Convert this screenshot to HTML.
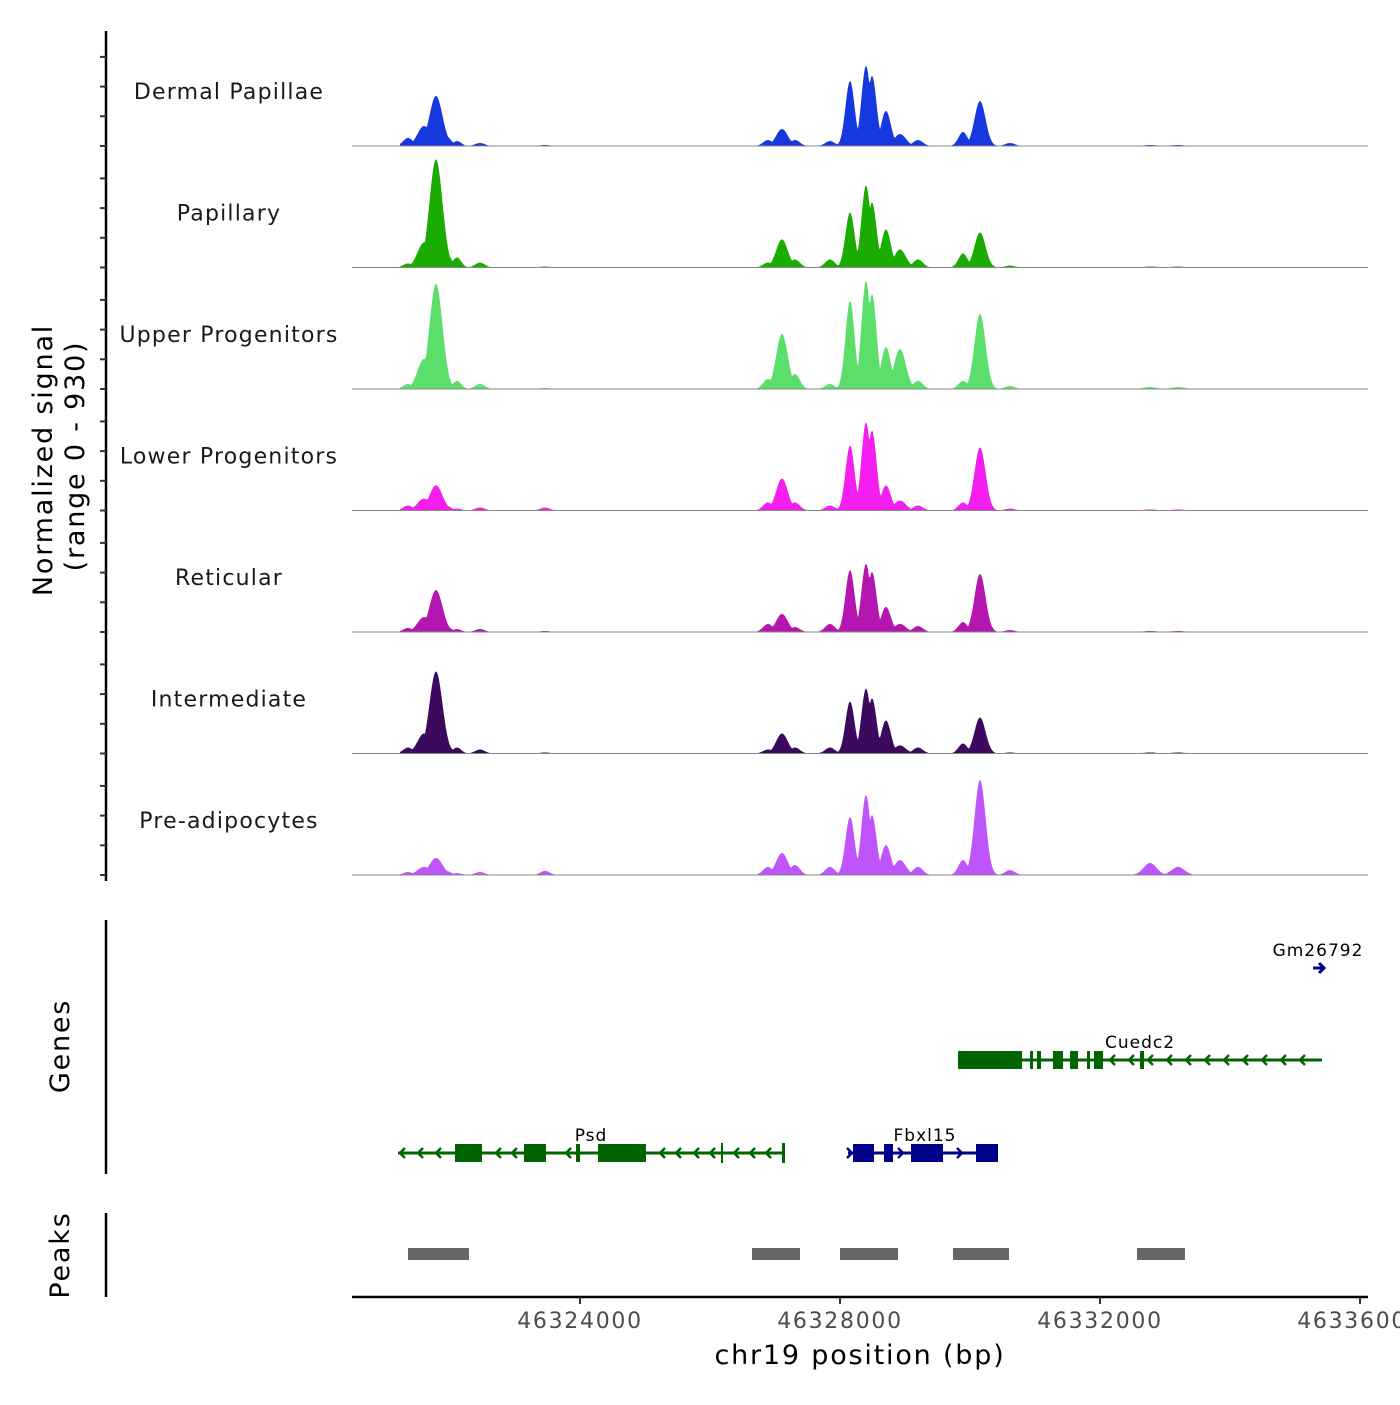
<!DOCTYPE html>
<html><head><meta charset="utf-8"><style>
body{margin:0;background:#fff}
svg text{font-family:"DejaVu Sans","Liberation Sans",sans-serif}
</style></head><body>
<svg id="c" width="1400" height="1400" xmlns="http://www.w3.org/2000/svg"></svg>
<script>
const trackNames=["Dermal Papillae","Papillary","Upper Progenitors","Lower Progenitors","Reticular","Intermediate","Pre-adipocytes"];
const trackColors=["#1538df","#1aac00","#5cdf6a","#f41ef0","#b616b0","#3b0a5f","#be55fb"];
const peakCenters=[46321354,46321600,46321784,46321938,46322107,46322461,46323461,46326892,46327107,46327307,46327846,46328154,46328400,46328492,46328707,46328923,46329200,46329892,46330154,46330615,46332769,46333200];
const peakSigma=[75,100,100,75,65,75,75,75,90,75,75,70,70,70,75,90,75,70,85,75,100,100];
const sigDP=[62,154,385,77,38,23,8,46,131,46,38,500,616,539,270,92,46,108,346,23,8,8];
const sigPap=[31,192,832,115,77,38,8,38,216,62,62,424,631,500,293,139,62,108,270,15,8,8];
const sigUpper=[38,231,809,77,62,38,8,77,424,115,38,678,832,731,323,308,62,62,578,23,15,15];
const sigLower=[38,92,193,38,15,23,23,62,246,62,38,500,678,616,193,77,38,62,485,15,8,8];
const sigRetic=[31,115,323,46,23,23,8,62,139,38,62,477,524,462,193,62,46,77,447,15,8,8];
const sigInter=[46,154,631,77,46,31,8,31,154,46,46,400,500,424,254,62,46,77,277,8,8,8];
const sigPre=[23,62,131,31,15,23,31,62,169,77,62,447,616,462,231,115,62,115,731,38,92,62];
const signals=[sigDP,sigPap,sigUpper,sigLower,sigRetic,sigInter,sigPre];
const xTicks=[46324000,46328000,46332000,46336000];
const peakStarts=[46321354,46326646,46328000,46329738,46332569];
const peakEnds=[46322292,46327384,46328892,46330600,46333307];
const yMax=930;

const svg=document.getElementById('c');const NS="http://www.w3.org/2000/svg";
function mk(t,a,p){const e=document.createElementNS(NS,t);for(const k in a)e.setAttribute(k,a[k]);(p||svg).appendChild(e);return e;}
const x0=46320492,pxPerBp=0.065;
const X=bp=>352+(bp-x0)*pxPerBp;
const trackH=121.5, base0=146;
const Y=(v,i)=>base0+i*trackH-(v/yMax)*121;

let e=mk('line',{x1:106,y1:31,x2:106,y2:881,stroke:'#000','stroke-width':2.5});

for(let i=0;i<7;i++){for(let j=0;j<4;j++){const y=base0+i*trackH-j*29.7;
 e=mk('line',{x1:100,y1:y,x2:106,y2:y,stroke:'#333','stroke-width':2});
 }}
e=mk('text',{x:0,y:0,'font-size':27,'letter-spacing':1.8,'text-anchor':'middle',transform:'translate(52,460) rotate(-90)',fill:'#000'});
e.textContent='Normalized signal';
e=mk('text',{x:0,y:0,'font-size':27,'letter-spacing':1.8,'text-anchor':'middle',transform:'translate(84,456) rotate(-90)',fill:'#000'});
e.textContent='(range 0 - 930)';

const xa=400,xb=1368;
for(let i=0;i<7;i++){
 const s=signals[i];let d='M'+xa+','+Y(0,i);
 for(let px=xa;px<=xb;px+=1){const bp=x0+(px-352)/pxPerBp;let v=0;
  for(let k=0;k<peakCenters.length;k++){const z=(bp-peakCenters[k])/peakSigma[k];v=Math.max(v,s[k]*Math.exp(-0.5*z*z));}
  d+=' L'+px+','+Y(v,i).toFixed(2);}
 d+=' L'+xb+','+Y(0,i)+' Z';
 e=mk('path',{d:d,fill:trackColors[i]});
 
 e=mk('line',{x1:352,y1:Y(0,i),x2:1368,y2:Y(0,i),stroke:'#888','stroke-width':1});
 
 e=mk('text',{x:229,y:base0+i*trackH-47,'font-size':22,'letter-spacing':1.2,'text-anchor':'middle',fill:'#1a1a1a'});
 e.textContent=trackNames[i];
}

e=mk('line',{x1:106,y1:920,x2:106,y2:1174,stroke:'#000','stroke-width':2.5});

e=mk('text',{x:0,y:0,'font-size':27,'letter-spacing':1.8,'text-anchor':'middle',transform:'translate(69,1046) rotate(-90)'});
e.textContent='Genes';
function gene(name,col,y,x1,x2,exons,dir,lx,chevs){
 const g=mk('g',{});
 mk('line',{x1:x1,y1:y,x2:x2,y2:y,stroke:col,'stroke-width':3},g);
 exons.forEach(r=>mk('rect',{x:r[0],y:y-(r[2]||9),width:r[1]-r[0],height:2*(r[2]||9),fill:col},g));
 chevs.forEach(cx=>{const w=dir<0?5:-5;mk('polyline',{points:(cx+w)+','+(y-5)+' '+cx+','+y+' '+(cx+w)+','+(y+5),fill:'none',stroke:col,'stroke-width':2.5},g);});
 const t=mk('text',{x:lx,y:y-12,'font-size':17,'letter-spacing':1,'text-anchor':'middle',fill:'#000'},g);t.textContent=name;
}
const cuChev=[];for(let c=1110;c<=1318;c+=19)cuChev.push(c);
gene('Cuedc2','#006400',1060,958,1322,[[958,1022],[1030,1033],[1037,1041],[1053,1063],[1070,1078],[1087,1090],[1094,1103],[1140,1144]],-1,1140,cuChev);
gene('Psd','#006400',1153,398,784,[[455,482],[524,546],[576,580],[598,646],[721,723,10],[782,785,10]],-1,591,[400,418,436,496,512,566,660,676,694,710,734,750,766]);
gene('Fbxl15','#00008b',1153,848,998,[[853,874],[884,893],[911,943],[976,998]],1,925,[852,903,962]);
e=mk('text',{x:1318,y:956,'font-size':17,'letter-spacing':1,'text-anchor':'middle'});e.textContent='Gm26792';

e=mk('path',{d:'M1313,968 L1324,968 M1319,963 L1324,968 L1319,973',stroke:'#00008b','stroke-width':3,fill:'none'});


e=mk('line',{x1:106,y1:1213,x2:106,y2:1297,stroke:'#000','stroke-width':2.5});

e=mk('text',{x:0,y:0,'font-size':27,'letter-spacing':1.8,'text-anchor':'middle',transform:'translate(69,1255) rotate(-90)'});
e.textContent='Peaks';
for(let i=0;i<peakStarts.length;i++){
 e=mk('rect',{x:X(peakStarts[i]),y:1248,width:X(peakEnds[i])-X(peakStarts[i]),height:12,fill:'#666'});
 }

e=mk('line',{x1:352,y1:1297,x2:1368,y2:1297,stroke:'#000','stroke-width':2.5});

xTicks.forEach(t=>{
 e=mk('line',{x1:X(t),y1:1297,x2:X(t),y2:1304,stroke:'#333','stroke-width':2});
 
 e=mk('text',{x:X(t),y:1328,'font-size':22,'letter-spacing':1.7,'text-anchor':'middle',fill:'#4d4d4d'});e.textContent=t;
 });
e=mk('text',{x:860,y:1364,'font-size':27,'letter-spacing':1.8,'text-anchor':'middle'});e.textContent='chr19 position (bp)';

</script>
</body></html>
